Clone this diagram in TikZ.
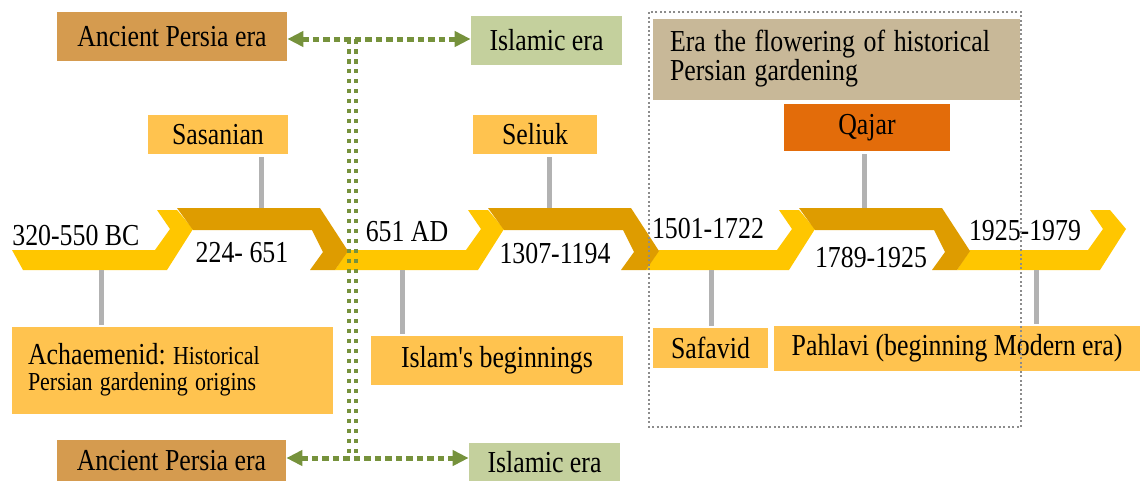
\documentclass[tikz,border=0pt]{standalone}
\usepackage{fontspec}
\usepackage{graphicx}
\setmainfont{Liberation Serif}
\usetikzlibrary{arrows.meta}
\definecolor{chevron}{HTML}{FFC600}
\definecolor{chevdark}{HTML}{DE9C00}
\definecolor{period}{HTML}{FFC34F}
\definecolor{ancient}{HTML}{D59B4F}
\definecolor{islamic}{HTML}{C4D09D}
\definecolor{flower}{HTML}{C8B898}
\definecolor{qajar}{HTML}{E36C0A}
\definecolor{olive}{HTML}{76923C}
% the printed text is a little stretched upward
\newcommand{\tall}[1]{\scalebox{1}[1.18]{#1}}

\begin{document}
\frenchspacing
\begin{tikzpicture}[x=0.02cm,y=-0.02cm,
  box/.style={inner sep=0pt,font=\fontsize{14.7}{16.5}\selectfont},
  date/.style={inner sep=0pt,font=\fontsize{14.7}{16.5}\selectfont},
  link/.style={draw=black!30,line width=0.1cm},
  green dots/.style={olive,line width=0.1cm,dash pattern=on 0.13cm off 0.08cm},
  both tips/.style={{Triangle[length=0.32cm,width=0.3cm]}-{Triangle[length=0.32cm,width=0.3cm]}}]
  \useasboundingbox (0,0) rectangle (1140,481);

  % timeline
  \fill[chevron] (12,250) -- (155,250) -- (170,229) -- (157,210) -- (177,210) -- (193,229) -- (167,270) -- (23,270) -- cycle;
  \foreach \dx in {311,622,933}
    \fill[chevron,shift={(\dx,0)}] (37,250) -- (155,250) -- (170,229) -- (157,210) -- (177,210) -- (193,229) -- (167,270) -- (24,270) -- cycle;
  \foreach \dx in {0,311,622}
    \fill[chevdark,shift={(\dx,0)}] (177,208) -- (320,208) -- (348,251) -- (335,270) -- (310,270) -- (323,252) -- (312,230) -- (193,230) -- cycle;

  \node[date,anchor=west] (d1) at (12,236) {\tall{320-550 BC}};
  \node[date] (d2) at (242,253) {\tall{224- 651}};
  \node[date] (d3) at (407,232) {\tall{651 AD}};
  \node[date] (d4) at (555,254) {\tall{1307-1194}};
  \node[date] (d5) at (708,229) {\tall{1501-1722}};
  \node[date] (d6) at (871,258) {\tall{1789-1925}};
  \node[date] (d7) at (1025,231) {\tall{1925-1979}};

  % era boxes
  \node[box,fill=ancient,minimum width=4.6cm,minimum height=0.98cm] (ancTop) at (172,36.5) {\tall{Ancient Persia era}};
  \node[box,fill=islamic,minimum width=3.02cm,minimum height=0.98cm] (islTop) at (546.5,40.5) {\tall{Islamic era}};
  \node[box,fill=ancient,minimum width=4.58cm,minimum height=0.82cm] (ancBot) at (171.5,460.5) {\tall{Ancient Persia era}};
  \node[box,fill=islamic,minimum width=3.02cm,minimum height=0.76cm] (islBot) at (544.5,462) {\tall{Islamic era}};
  \node[box,fill=flower,minimum width=7.34cm,minimum height=1.62cm,text width=6.66cm,align=left,
    font=\fontsize{14.7}{13}\selectfont] (flower) at (836.5,59.5)
    {\tall{\begin{tabular}{@{}l@{}}Era the flowering of historical\\Persian gardening\end{tabular}}};

  % dynasty boxes
  \node[box,fill=period,minimum width=2.8cm,minimum height=0.78cm] (sasanian) at (218,134.5) {\tall{Sasanian}};
  \node[box,fill=period,minimum width=2.48cm,minimum height=0.78cm] (seljuk) at (535,134.5) {\tall{Seliuk}};
  \node[box,fill=qajar,minimum width=3.32cm,minimum height=0.94cm] (qajar) at (867,127.5) {\tall{Qajar}};
  \node[box,fill=period,minimum width=6.42cm,minimum height=1.74cm,text width=5.78cm,align=left,
    font=\fontsize{12.5}{12}\selectfont] (achaemenid) at (172.5,370.5)
    {\tall{\begin{tabular}{@{}l@{}}{\fontsize{14.7}{12}\selectfont Achaemenid:} Historical\\Persian gardening origins\end{tabular}}};
  \node[box,fill=period,minimum width=5.04cm,minimum height=0.98cm] (islam) at (497,360.5) {\tall{Islam\textquotesingle s beginnings}};
  \node[box,fill=period,minimum width=2.3cm,minimum height=0.8cm] (safavid) at (710.5,348) {\tall{Safavid}};
  \node[box,fill=period,minimum width=7.32cm,minimum height=0.9cm] (pahlavi) at (957,348.5) {\tall{Pahlavi (beginning Modern era)}};

  % connectors to the timeline
  \coordinate (sasT) at (261,208);
  \coordinate (selT) at (549,208);
  \coordinate (qajT) at (864,208);
  \coordinate (achT) at (101,270);
  \coordinate (islT) at (402,270);
  \coordinate (safT) at (711,270);
  \coordinate (pahT) at (1036,270);
  \draw[link,shorten <=0.06cm] (sasanian.south -| sasT) -- (sasT);
  \draw[link,shorten <=0.06cm] (seljuk.south -| selT) -- (selT);
  \draw[link,shorten <=0.06cm] (qajar.south -| qajT) -- (qajT);
  \draw[link,shorten >=0.04cm] (achT) -- (achaemenid.north -| achT);
  \draw[link,shorten >=0.04cm] (islT) -- (islam.north -| islT);
  \draw[link,shorten >=0.04cm] (safT) -- (safavid.north -| safT);
  \draw[link,shorten >=0.04cm] (pahT) -- (pahlavi.north -| pahT);

  % ancient / islamic split
  \coordinate (hubT) at (352.5,39);
  \coordinate (hubB) at (352.5,458);
  \draw[green dots,both tips] (ancTop.east |- hubT) -- (islTop.west |- hubT);
  \draw[green dots,both tips] (ancBot.east |- hubB) -- (islBot.west |- hubB);
  \draw[green dots,line width=0.085cm,dash pattern=on 0.09cm off 0.11cm] ([xshift=-0.07cm]hubT) -- ([xshift=-0.07cm]hubB);
  \draw[green dots,line width=0.085cm,dash pattern=on 0.09cm off 0.11cm] ([xshift=0.07cm]hubT) -- ([xshift=0.07cm]hubB);

  % flowering period frame
  \draw[black!45,line width=0.035cm,dash pattern=on 0.04cm off 0.05cm] (649,12) rectangle (1021,427);
\end{tikzpicture}
\end{document}
